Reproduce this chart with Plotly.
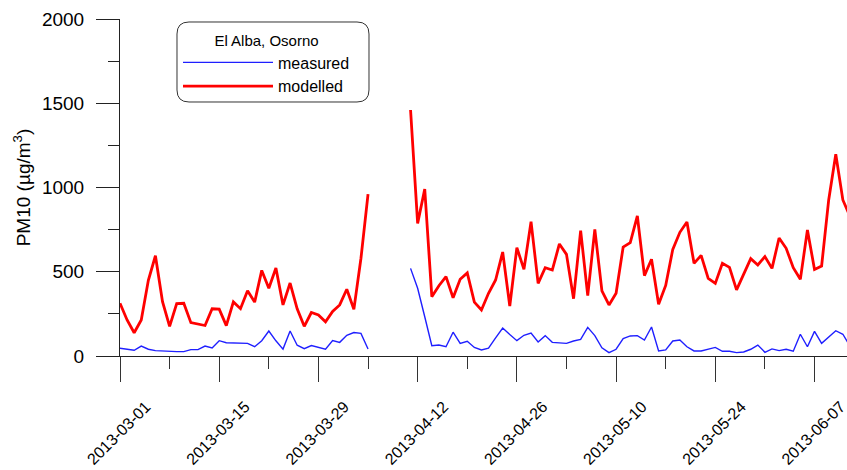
import plotly.graph_objects as go
import pandas as pd

# ---------------- data ----------------
start_date = "2013-03-01"
station = "El Alba, Osorno"

# daily values starting 2013-03-01 (None = missing days 2013-04-06 .. 2013-04-10)
modelled = [
    313, 214, 138, 214, 449, 595, 322, 176, 311, 313,
    198, 190, 181, 280, 278, 180, 321, 281, 387, 320,
    508, 402, 522, 303, 433, 280, 176, 258, 244, 203,
    265, 303, 396, 277, 580, 961,
    None, None, None, None, None,
    1460, 787, 991, 352, 417, 471, 346, 455, 493, 320,
    273, 372, 451, 617, 297, 643, 514, 797, 431, 524,
    510, 665, 603, 340, 744, 358, 752, 386, 303, 372,
    647, 673, 831, 477, 574, 307, 419, 633, 734, 795,
    550, 597, 461, 431, 550, 526, 392, 483, 578, 540,
    590, 520, 700, 639, 524, 455, 748, 514, 534, 926,
    1197, 926, 830,
]
measured = [
    46, 40, 34, 59, 40, 32, 30, 24, 26, 26,
    38, 38, 59, 48, 91, 79, 79, 77, 75, 55,
    91, 148, 90, 41, 148, 64, 43, 62, 53, 41,
    92, 81, 123, 139, 134, 42,
    None, None, None, None, None,
    520, 402, 233, 61, 65, 55, 141, 75, 87, 51,
    36, 47, 107, 166, 127, 91, 123, 136, 83, 121,
    81, 79, 75, 89, 99, 170, 121, 49, 20, 40,
    103, 119, 121, 95, 172, 30, 36, 89, 95, 55,
    30, 30, 42, 51, 28, 28, 20, 24, 40, 65,
    22, 42, 32, 40, 28, 129, 55, 146, 75, 111,
    150, 129, 60,
]
dates = pd.date_range(start_date, periods=len(modelled), freq="D")

x_range = ["2013-03-01", "2013-06-11 14:00"]
y_range = [0, 2000]
y_ticks = [0, 500, 1000, 1500, 2000]

# ---------------- layout constants ----------------
W, H = 847, 470
PLOT_L, PLOT_T, PLOT_B, PLOT_R = 120, 19, 356, 847   # window pixels
ML, MT = PLOT_L, PLOT_T
MB = H - PLOT_B
MR = W - PLOT_R
PW, PH = PLOT_R - PLOT_L, PLOT_B - PLOT_T
FONT = "Arial, Liberation Sans, sans-serif"


def px(x):
    return (x - PLOT_L) / PW


def py(y):
    return (PLOT_B - y) / PH


def rounded_box(x0, y0, x1, y1, r):
    pts = [
        ("M", [(x0 + r, y0)]),
        ("L", [(x1 - r, y0)]),
        ("Q", [(x1, y0), (x1, y0 + r)]),
        ("L", [(x1, y1 - r)]),
        ("Q", [(x1, y1), (x1 - r, y1)]),
        ("L", [(x0 + r, y1)]),
        ("Q", [(x0, y1), (x0, y1 - r)]),
        ("L", [(x0, y0 + r)]),
        ("Q", [(x0, y0), (x0 + r, y0)]),
    ]
    s = ""
    for cmd, ps in pts:
        s += cmd + " ".join(f"{px(a):.5f},{py(b):.5f}" for a, b in ps) + " "
    return s + "Z"


fig = go.Figure()
fig.add_trace(go.Scatter(
    x=dates, y=measured, mode="lines", name="measured",
    line=dict(color="#1f1fff", width=1.4),
))
fig.add_trace(go.Scatter(
    x=dates, y=modelled, mode="lines", name="modelled",
    line=dict(color="#ff0000", width=2.8),
))

fig.add_shape(type="path", xref="paper", yref="paper",
              path=rounded_box(177, 22, 369, 102, 12),
              line=dict(color="#333333", width=1), fillcolor="rgba(0,0,0,0)",
              layer="above")

fig.update_layout(
    width=W, height=H,
    margin=dict(l=ML, r=MR, t=MT, b=MB, pad=0, autoexpand=False),
    paper_bgcolor="white", plot_bgcolor="white",
    font=dict(family=FONT, color="black"),
    showlegend=True,
    legend=dict(
        x=px(178), y=py(26), xanchor="left", yanchor="top",
        bgcolor="rgba(0,0,0,0)", borderwidth=0,
        font=dict(size=16, family=FONT, color="black"),
        title=dict(text=station, side="top center",
                   font=dict(size=15, family=FONT, color="black")),
        itemwidth=90, tracegroupgap=0,
    ),
    xaxis=dict(
        type="date", range=x_range, automargin=False,
        showgrid=False, zeroline=False,
        showline=True, linecolor="#222222", linewidth=1,
        ticks="outside", ticklen=25, tickcolor="#333333", tickwidth=1,
        tick0="2013-03-01", dtick=14 * 86400000, tickformat="%Y-%m-%d",
        tickangle=-45, tickfont=dict(size=16, family=FONT, color="black"),
        ticklabelshift=26, ticklabelstandoff=9, ticklabeloverflow="allow",
        minor=dict(ticks="outside", ticklen=12, tickcolor="#333333",
                   dtick=7 * 86400000, tick0="2013-03-01", showgrid=False),
    ),
    yaxis=dict(
        range=y_range, tickvals=y_ticks, automargin=False,
        showgrid=False, zeroline=False,
        showline=True, linecolor="#222222", linewidth=1,
        ticks="outside", ticklen=23, tickcolor="#222222", tickwidth=1,
        tickfont=dict(size=19, family=FONT, color="black"),
        ticklabelstandoff=8,
        minor=dict(ticks="outside", ticklen=11, tickcolor="#222222",
                   dtick=250, showgrid=False),
        title=dict(text="PM10 (µg/m<sup>3</sup>)",
                   font=dict(size=19, family=FONT, color="black"),
                   standoff=6),
    ),
)

fig.write_html(
    "out.html",
    config={"displayModeBar": False},
    post_script="document.body.style.margin='0';document.body.style.overflow='hidden';",
)
